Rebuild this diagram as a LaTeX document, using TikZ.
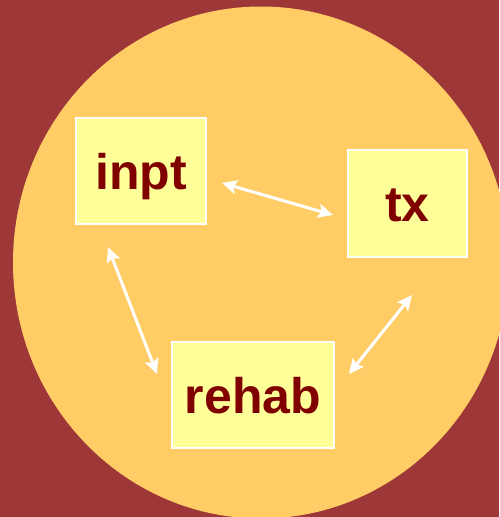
\documentclass[tikz,border=0pt]{standalone}
\usepackage{fontspec}
\setmainfont{Liberation Sans}
\usetikzlibrary{arrows.meta}
\definecolor{bgred}{RGB}{158,56,56}
\definecolor{disc}{RGB}{255,204,102}
\definecolor{boxfill}{RGB}{255,255,153}
\definecolor{txt}{RGB}{128,0,0}
\begin{document}
\begin{tikzpicture}[x=1pt,y=-1pt,
  box/.style={draw=white, line width=1.5pt, fill=boxfill, inner sep=0pt,
    text height=36pt, text depth=0pt, text=txt,
    font=\fontsize{50}{60}\selectfont\bfseries},
  link/.style={draw=white, line width=3pt,
    {Stealth[length=15pt,width=14pt,inset=3pt]}-{Stealth[length=15pt,width=14pt,inset=3pt]}}]
\fill[bgred] (0,0) rectangle (499,517);
\useasboundingbox (0,0) rectangle (499,517);
\fill[disc] (261,262.5) ellipse [x radius=248pt, y radius=256pt];
\node[box, minimum width=130pt, minimum height=106pt] (inpt) at (141,171) {inpt};
\node[box, minimum width=119pt, minimum height=107pt] (tx) at (407.5,203.5) {tx};
\node[box, minimum width=162pt, minimum height=106pt] (rehab) at (253,395) {rehab};
\coordinate (a1) at (222,183);
\coordinate (b1) at (333,215);
\coordinate (a2) at (108,247);
\coordinate (b2) at (157,374);
\coordinate (a3) at (349,374);
\coordinate (b3) at (412,295);
\draw[link] (a1) -- (b1);
\draw[link] (a2) -- (b2);
\draw[link] (a3) -- (b3);
\end{tikzpicture}
\end{document}
